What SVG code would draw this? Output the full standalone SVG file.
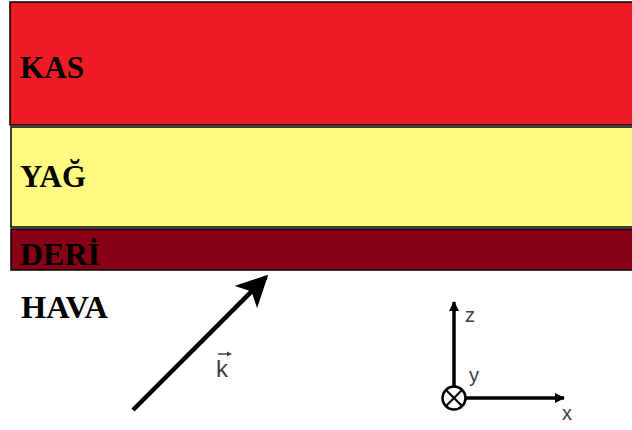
<svg xmlns="http://www.w3.org/2000/svg" width="632" height="430" viewBox="0 0 632 430">
<style>
.layer{stroke:#000;stroke-width:1.5}
.lbl{font-family:"Liberation Serif","Times New Roman",serif;font-weight:bold;font-size:31px;fill:#000}
.ax{font-family:"Liberation Sans",Arial,sans-serif;font-size:20px;fill:#404040}
.axis{stroke:#000;stroke-width:3.5;fill:none}
</style>
<defs>
<marker id="big" viewBox="0 0 10 10" refX="9" refY="5" markerWidth="7" markerHeight="7" markerUnits="strokeWidth" orient="auto">
<path d="M0,0 L10,5 L0,10 L2.5,5 Z" fill="#000"/>
</marker>
<marker id="small" viewBox="0 0 10 10" refX="9" refY="5" markerWidth="3" markerHeight="3" markerUnits="strokeWidth" orient="auto">
<path d="M0,0 L10,5 L0,10 Z" fill="#000"/>
</marker>
</defs>
<rect width="632" height="430" fill="#fff"/>
<g id="kas">
<rect class="layer" x="10" y="2" width="640" height="123" fill="#ED1C24"/>
<text class="lbl" x="20" y="78" textLength="64" lengthAdjust="spacingAndGlyphs">KAS</text>
</g>
<g id="yag">
<rect class="layer" x="11" y="127" width="640" height="100" fill="#FFFB80"/>
<text class="lbl" x="20" y="187" textLength="66" lengthAdjust="spacingAndGlyphs">YAĞ</text>
</g>
<g id="deri">
<rect class="layer" x="11" y="229" width="640" height="41" fill="#880015"/>
<text class="lbl" x="20" y="265" textLength="80" lengthAdjust="spacingAndGlyphs">DERİ</text>
</g>
<g id="hava">
<text class="lbl" x="21" y="318" textLength="87" lengthAdjust="spacingAndGlyphs">HAVA</text>
</g>
<g id="connectors">
<line x1="133" y1="410" x2="266" y2="277" stroke="#000" stroke-width="4.5" marker-end="url(#big)"/>
<line class="axis" x1="454" y1="386" x2="454" y2="302" marker-end="url(#small)"/>
<line class="axis" x1="466" y1="398" x2="564" y2="398" marker-end="url(#small)"/>
</g>
<g id="k-label">
<text class="ax" x="216" y="377" style="font-size:24px">k</text>
<line x1="218" y1="354" x2="229" y2="354" stroke="#404040" stroke-width="1.5"/>
<path d="M227,351.5 L232,354 L227,356.5 Z" fill="#404040"/>
</g>
<g id="axes">
<circle cx="454" cy="398" r="11.5" fill="#fff" stroke="#000" stroke-width="2.5"/>
<line x1="446" y1="390" x2="462" y2="406" stroke="#000" stroke-width="2.2"/>
<line x1="462" y1="390" x2="446" y2="406" stroke="#000" stroke-width="2.2"/>
<text class="ax" x="465" y="322">z</text>
<text class="ax" x="469" y="382">y</text>
<text class="ax" x="562" y="420">x</text>
</g>
</svg>
